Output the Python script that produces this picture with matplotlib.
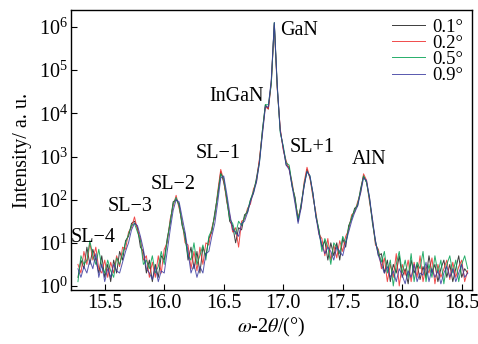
import numpy as np
import matplotlib
matplotlib.use("Agg")
import matplotlib.pyplot as plt

plt.rcParams['font.family'] = ['Liberation Serif', 'DejaVu Serif']
plt.rcParams['mathtext.fontset'] = 'stix'

# sampling of the omega-2theta scan (degrees)
scan_start = 15.275
scan_step = 0.025
n_points = 132

# log10 intensity for each sample
log_i_01 = [0.2, 0.6, 0.4, 0.9, 0.5, 0.85, 0.6, 0.3, 0.7, 0.2, 0.5, 0.1, 0.6, 0.3, 0.8, 0.6, 1.05, 1.15, 1.45, 1.5,
            1.35, 0.9, 0.8, 0.3, 0.6, 0.1, 0.5, 0.2, 0.7, 0.6, 1.1, 1.45, 1.95, 2.0, 1.9, 1.4, 1.2, 0.6, 0.9, 0.4,
            0.8, 0.3, 0.9, 0.7, 1.1, 1.25, 1.7, 2.1, 2.65, 2.4, 2.05, 1.5, 1.4, 1.0, 1.35, 1.3, 1.65, 1.7, 2.0, 2.15,
            2.5, 2.9, 3.6, 4.2, 4.1, 4.7, 6.1, 4.6, 3.6, 3.2, 2.8, 2.75, 2.3, 2.05, 1.5, 1.9, 2.3, 2.7, 2.5, 2.15,
            1.6, 1.3, 0.9, 1.05, 0.6, 1.0, 0.7, 1.0, 0.6, 1.1, 0.9, 1.4, 1.55, 1.8, 1.85, 2.25, 2.55, 2.4, 2.05, 1.45,
            1.05, 0.7, 0.75, 0.3, 0.6, 0.1, 0.5, 0.3, 0.7, 0.2, 0.4, 0.05, 0.6, 0.3, 0.5, 0.15, 0.45, 0.2, 0.7, 0.3,
            0.5, 0.1, 0.4, 0.6, 0.2, 0.5, 0.1, 0.4, 0.7, 0.2, 0.4, 0.3]
log_i_02 = [0.5, 0.3, 0.8, 0.5, 1.0, 0.6, 0.9, 0.4, 0.3, 0.6, 0.2, 0.55, 0.3, 0.7, 0.45, 0.9, 0.85, 1.25, 1.35, 1.6,
            1.3, 1.1, 0.6, 0.7, 0.2, 0.55, 0.2, 0.7, 0.3, 0.85, 1.0, 1.55, 1.85, 2.1, 1.8, 1.5, 1.0, 0.95, 0.4, 0.8,
            0.35, 0.9, 0.5, 1.0, 0.95, 1.35, 1.6, 2.2, 2.7, 2.45, 1.95, 1.65, 1.25, 1.35, 0.9, 1.5, 1.55, 1.8, 1.9, 2.25,
            2.4, 2.95, 3.55, 4.15, 4.1, 4.75, 6.05, 4.55, 3.65, 3.15, 2.9, 2.7, 2.4, 1.95, 1.6, 1.8, 2.4, 2.75, 2.5, 2.05,
            1.7, 1.2, 1.1, 0.7, 1.1, 0.6, 0.95, 0.65, 1.05, 0.8, 1.15, 1.3, 1.65, 1.7, 1.95, 2.15, 2.6, 2.45, 1.95, 1.55,
            0.95, 0.85, 0.4, 0.65, 0.1, 0.5, 0.2, 0.75, 0.0, 0.5, 0.25, 0.6, 0.1, 0.55, 0.2, 0.7, 0.1, 0.45, 0.3, 0.65,
            0.05, 0.5, 0.2, 0.4, 0.6, 0.15, 0.55, 0.2, 0.45, 0.6, 0.1, 0.35]
log_i_05 = [0.1, 0.7, 0.5, 0.6, 1.05, 0.7, 0.5, 0.85, 0.45, 0.3, 0.6, 0.35, 0.2, 0.65, 0.5, 0.75, 1.0, 1.2, 1.4, 1.45,
            1.25, 1.05, 0.5, 0.6, 0.4, 0.7, 0.3, 0.45, 0.8, 0.5, 1.05, 1.5, 1.9, 2.05, 1.85, 1.45, 1.1, 0.7, 0.6, 1.0,
            0.5, 0.7, 0.95, 0.6, 1.15, 1.3, 1.65, 2.15, 2.6, 2.5, 2.0, 1.55, 1.45, 1.2, 1.5, 1.4, 1.6, 1.75, 2.0, 2.2,
            2.45, 2.85, 3.6, 4.2, 4.2, 4.7, 6.1, 4.6, 3.55, 3.25, 2.85, 2.8, 2.35, 2.0, 1.55, 1.85, 2.35, 2.65, 2.55, 2.1,
            1.65, 1.3, 0.8, 1.1, 0.9, 0.5, 1.0, 0.9, 0.75, 1.15, 1.0, 1.35, 1.6, 1.75, 1.9, 2.2, 2.55, 2.4, 2.0, 1.5,
            1.0, 0.8, 0.55, 0.8, 0.3, 0.6, 0.0, 0.5, 0.8, 0.3, 0.6, 0.2, 0.75, 0.1, 0.55, 0.4, 0.8, 0.1, 0.5, 0.2,
            0.7, 0.3, 0.6, 0.05, 0.5, 0.7, 0.3, 0.6, 0.1, 0.5, 0.7, 0.4]
log_i_09 = [0.4, 0.2, 0.45, 0.3, 0.6, 0.4, 0.75, 0.2, 0.5, 0.1, 0.4, 0.2, 0.5, 0.35, 0.3, 0.55, 0.8, 1.0, 1.3, 1.45,
            1.4, 1.15, 0.85, 0.4, 0.3, 0.15, 0.45, 0.1, 0.35, 0.3, 0.8, 1.3, 1.75, 2.0, 1.95, 1.6, 1.25, 0.8, 0.3, 0.5,
            0.2, 0.45, 0.3, 0.75, 0.8, 1.15, 1.45, 1.95, 2.5, 2.55, 2.15, 1.7, 1.3, 1.25, 1.15, 1.45, 1.5, 1.7, 1.95, 2.15,
            2.4, 2.85, 3.5, 4.15, 4.15, 4.8, 6.1, 4.65, 3.6, 3.2, 2.8, 2.7, 2.3, 1.9, 1.45, 1.8, 2.3, 2.65, 2.55, 2.15,
            1.6, 1.2, 0.95, 0.75, 0.9, 0.8, 0.6, 0.9, 0.8, 0.7, 1.0, 1.25, 1.5, 1.7, 1.85, 2.15, 2.5, 2.45, 2.05, 1.55,
            1.05, 0.7, 0.5, 0.3, 0.45, 0.2, 0.35, 0.1, 0.4, 0.25, 0.05, 0.35, 0.2, 0.5, 0.1, 0.3, 0.25, 0.55, 0.1, 0.4,
            0.2, 0.35, 0.05, 0.3, 0.45, 0.2, 0.4, 0.1, 0.3, 0.5, 0.2, 0.3]

series_labels = ['0.1°', '0.2°', '0.5°', '0.9°']
series_colors = ['#1a1a1a', '#ee2a2a', '#00a050', '#3a3aa0']

x_ticks = [15.5, 16.0, 16.5, 17.0, 17.5, 18.0, 18.5]
x_ticklabels = ['15.5', '16.0', '16.5', '17.0', '17.5', '18.0', '18.5']
y_ticks = [1e0, 1e1, 1e2, 1e3, 1e4, 1e5, 1e6]

peak_names = ['GaN', 'InGaN', 'SL−1', 'SL+1', 'AlN', 'SL−2', 'SL−3', 'SL−4']
peak_text_x = [17.133, 16.612, 16.452, 17.242, 17.721, 16.074, 15.713, 15.402]
peak_text_y = [8.5e5, 2.5e4, 1.2e3, 1.66e3, 8.3e2, 2.3e2, 71, 13]

two_theta = scan_start + scan_step * np.arange(n_points)

fig = plt.figure(figsize=(4.78, 3.44), dpi=100)
ax = fig.add_axes([70.7 / 478, 1 - 290 / 344, (471.7 - 70.7) / 478, 280 / 344])

for vals, lab, col in zip([log_i_01, log_i_02, log_i_05, log_i_09], series_labels, series_colors):
    ax.plot(two_theta, np.power(10.0, np.array(vals)), color=col, lw=0.7, alpha=0.85, label=lab)

ax.set_yscale('log')
ax.set_xlim(15.214, 18.584)
ax.set_ylim(0.807, 2.48e6)
ax.set_xticks(x_ticks)
ax.set_xticklabels(x_ticklabels)
ax.set_yticks(y_ticks)
ax.yaxis.set_minor_locator(matplotlib.ticker.NullLocator())
ax.tick_params(direction='in', length=4, width=0.8, labelsize=14.5, top=False, right=False, pad=3)
ax.tick_params(axis='y', pad=2)
for s in ax.spines.values():
    s.set_linewidth(1.0)

for name, tx, ty in zip(peak_names, peak_text_x, peak_text_y):
    ax.text(tx, ty, name, ha='center', va='center', fontsize=14.5)

ax.set_ylabel('Intensity/ a. u.', fontsize=14.5, labelpad=5)
ax.set_xlabel(r'$\omega$-2$\theta$/(°)', fontsize=14.5, labelpad=2)

leg = ax.legend(loc='upper right', bbox_to_anchor=(1.0, 1.0), frameon=False, fontsize=13.5,
                handlelength=1.75, handletextpad=0.4, labelspacing=-0.05, borderaxespad=0.25,
                borderpad=0.2)

fig.savefig('out.png', dpi=100)
